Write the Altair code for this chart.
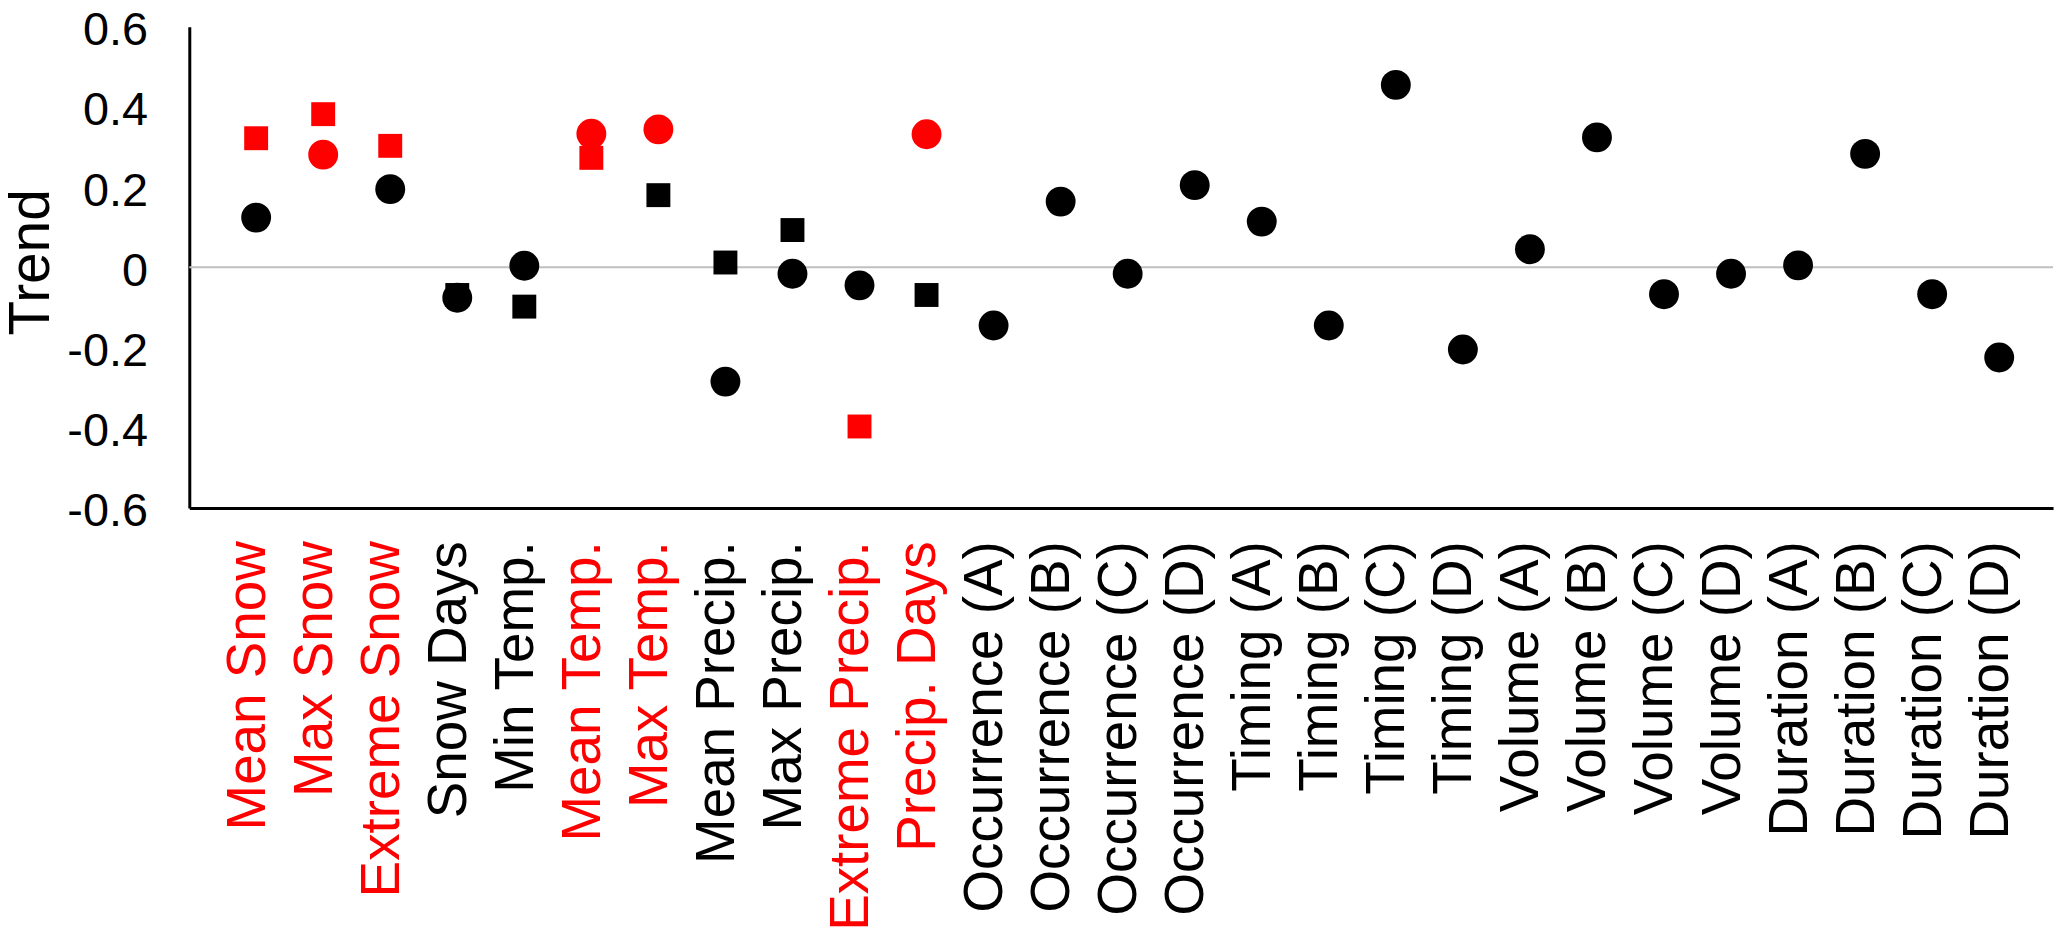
import json
import altair as alt
import pandas as pd

categories = [
    "Mean Snow", "Max Snow", "Extreme Snow", "Snow Days", "Min Temp.",
    "Mean Temp.", "Max Temp.", "Mean Precip.", "Max Precip.",
    "Extreme Precip.", "Precip. Days",
    "Occurrence (A)", "Occurrence (B)", "Occurrence (C)", "Occurrence (D)",
    "Timing (A)", "Timing (B)", "Timing (C)", "Timing (D)",
    "Volume (A)", "Volume (B)", "Volume (C)", "Volume (D)",
    "Duration (A)", "Duration (B)", "Duration (C)", "Duration (D)",
]

# Square series (only the first 11 categories)
square_values = [0.322, 0.382, 0.303, -0.069, -0.098, 0.273, 0.180,
                 0.012, 0.093, -0.397, -0.069]
square_significant = [True, True, True, False, False, True, False,
                      False, False, True, False]

# Circle series (all categories)
circle_values = [0.124, 0.281, 0.195, -0.076, 0.004, 0.333, 0.344,
                 -0.285, -0.016, -0.045, 0.332,
                 -0.145, 0.164, -0.016, 0.205,
                 0.114, -0.145, 0.455, -0.205,
                 0.045, 0.324, -0.067, -0.016,
                 0.005, 0.283, -0.067, -0.225]
circle_significant = [False, True, False, False, False, True, True,
                      False, False, False, True] + [False] * 16

y_ticks = [-0.6, -0.4, -0.2, 0, 0.2, 0.4, 0.6]

FONT = "Liberation Sans"
RED = "#FF0000"
BLACK = "#000000"

sq_df = pd.DataFrame({
    "category": categories[:len(square_values)],
    "value": square_values,
    "sig": ["yes" if s else "no" for s in square_significant],
})
ci_df = pd.DataFrame({
    "category": categories,
    "value": circle_values,
    "sig": ["yes" if s else "no" for s in circle_significant],
})

red_labels = []
for i, c in enumerate(categories):
    s1 = square_significant[i] if i < len(square_significant) else False
    if s1 or circle_significant[i]:
        red_labels.append(c)

label_color_expr = (
    f"indexof({json.dumps(red_labels)}, datum.value) >= 0 ? '{RED}' : '{BLACK}'"
)

x_enc = alt.X(
    "category:N",
    sort=categories,
    scale=alt.Scale(domain=categories, padding=0.9, align=0.554),
    axis=alt.Axis(
        title=None,
        labelAngle=-90,
        labelFont=FONT,
        labelFontSize=55,
        labelColor=alt.ExprRef(label_color_expr),
        labelPadding=33,
        labelOffset=-9,
        labelLimit=0,
        labelOverlap=False,
        ticks=False,
        grid=False,
        domainColor=BLACK,
        domainWidth=3,
    ),
)

y_enc = alt.Y(
    "value:Q",
    scale=alt.Scale(domain=[-0.6, 0.6], nice=False, zero=False),
    axis=alt.Axis(
        title="Trend",
        titleFont=FONT,
        titleFontSize=57,
        titleFontWeight="normal",
        titleColor=BLACK,
        titleAngle=-90,
        titleX=-158,
        titleY=236,
        titleAlign="center",
        titleBaseline="middle",
        values=y_ticks,
        labelExpr="datum.value == 0 ? '0' : (datum.value < 0 ? '-' : '') + format(abs(datum.value), '.1f')",
        labelFont=FONT,
        labelFontSize=47,
        labelColor=BLACK,
        labelPadding=42,
        labelOffset=4,
        ticks=False,
        grid=False,
        domainColor=BLACK,
        domainWidth=3,
    ),
)

color_enc = alt.Color(
    "sig:N",
    scale=alt.Scale(domain=["yes", "no"], range=[RED, BLACK]),
    legend=None,
)

zero_rule = alt.Chart(pd.DataFrame({"y": [0]})).mark_rule(
    color="#BFBFBF", strokeWidth=2
).encode(y=alt.Y("y:Q"))

squares = alt.Chart(sq_df).mark_point(
    shape="square", filled=True, size=576, opacity=1, strokeWidth=0
).encode(x=x_enc, y=y_enc, color=color_enc)

circles = alt.Chart(ci_df).mark_point(
    shape="circle", filled=True, size=900, opacity=1, strokeWidth=0
).encode(x=x_enc, y=y_enc, color=color_enc)

chart = alt.layer(zero_rule, squares, circles).properties(
    width=1871,
    height=483,
    padding={"left": 182, "top": 17, "right": 6, "bottom": 440},
    autosize=alt.AutoSizeParams(type="none"),
    background="white",
).configure_view(strokeWidth=0)

chart.save("out.html", embed_options={"renderer": "svg", "actions": False})
